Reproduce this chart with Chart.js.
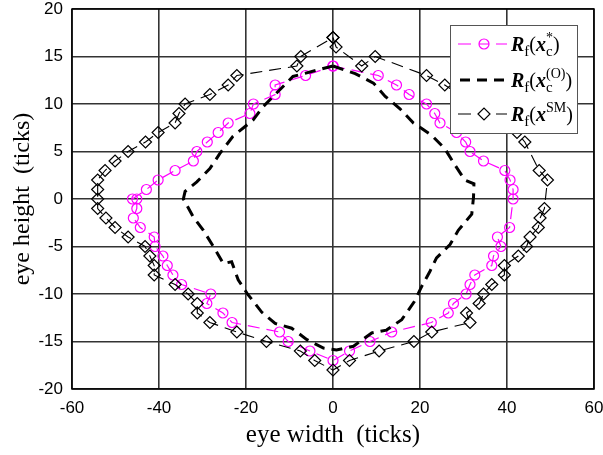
<!DOCTYPE html>
<html>
<head>
<meta charset="utf-8">
<script src="https://cdn.jsdelivr.net/npm/chart.js@4.4.0/dist/chart.umd.min.js"></script>
<style>
  html, body { margin: 0; padding: 0; background: #fff; }
</style>
</head>
<body>
<canvas id="eyeChart" width="603" height="455"></canvas>
<script>
'use strict';

// axis ranges / ticks
const xRange = [-60, 60];
const yRange = [-20, 20];
const xStep = 20;
const yStep = 5;

// R_f(x_c^*)  - magenta circles, traced round the eye (top -> right -> bottom -> left)
const starX = [0, 10.4, 14.6, 17.5, 21.5, 23.4, 24.6, 28.4, 30.5, 31.5, 34.6, 39.5, 40.7, 41.4, 41.4,
  40.6, 37.8, 38.6, 36.9, 36.5, 32.6, 31.5, 30.6, 27.7, 26.5, 22.6, 13.5, 8.5, 3.8, 0,
  -5.3, -10.3, -12.3, -23.2, -25.3, -29.0, -28.1, -34.8, -36.8, -38.1, -39.1, -40.9, -41.1, -44.3, -45.9, -45.1, -45.1,
  -46.1, -42.9, -40.2, -36.3, -32.1, -31.3, -28.9, -26.4, -24.1, -19.1, -18.3, -13.3, -13.3, -6.3, 0];
const starY = [14, 13, 12, 11, 10, 9, 8, 7, 6, 5, 4, 3, 2, 1, 0,
  -3, -4, -5, -6, -7, -8, -9, -10, -11, -12, -13, -14, -15, -16, -17,
  -16, -15, -14, -13, -12, -11, -10, -9, -8, -7, -6, -5, -4, -3, -2, -1, 0,
  0, 1, 2, 3, 4, 5, 6, 7, 8, 9, 10, 11, 12, 13, 14];

// R_f(x_c^(O)) - thick black dashes, no markers
const optX = [0, 5.1, 9.3, 12, 15.4, 18.5, 22.7, 25.7, 28, 30.3, 32.4, 32.3, 31.9, 28.8, 26.9, 23.8, 22.3, 20.4,
  18.7, 15.8, 12.3, 8.9, 4.7, 0.8, -2.2, -6, -9.5, -13.3, -16.4, -19.8, -21.8, -23.3, -25.2, -27.5, -29.8,
  -32.1, -34.4, -34, -31.3, -28.3, -26, -23, -18.4, -16.1, -9.2, 0];
const optY = [14, 13.2, 12.2, 10.8, 9.5, 8, 6.7, 5.3, 3.6, 2, 1.6, 0.2, -1.6, -3.3, -4.8, -6.2, -7.6, -9.2,
  -10.8, -12.7, -13.8, -14.1, -15.5, -15.9, -15.7, -14.8, -13.6, -13.1, -11.9, -9.9, -8.5, -6.6, -6.8, -5, -3.3,
  -1.9, 0, 0.8, 1.8, 3.2, 4.8, 6.6, 8.3, 9.7, 12.9, 14];

// R_f(x^SM) - thin black dashes with diamonds
const smX = [0, 0.7, 6.6, 9.7, 21.5, 25.7, 42.3, 44.1, 47.4, 49.3,
  48.6, 47.6, 47.2, 45.3, 44.5, 42.6, 39.4, 39.4, 36.5, 34.6, 33.6, 30.7, 31.5, 22.7, 18.6, 10.6, 3.8, 0,
  -4.2, -7.5, -15.3, -22.1, -28.3, -31.2, -31.2, -33.3, -36.3, -41.1, -41.1, -42.1, -43.2, -47.1, -50.1, -52.2,
  -54.1, -54.1, -54.1, -54.1, -52.4, -50.1, -47.1, -43.1, -40.2, -36.3, -35.4, -34, -28.3, -24.1, -22.1, -8.3, -7.4, 0];
const smY = [17, 16, 14, 15, 13, 12, 7, 6, 3, 2,
  -1, -2, -3, -4, -5, -6, -7, -8, -9, -10, -11, -12, -13, -14, -15, -16, -17, -18,
  -17, -16, -15, -14, -13, -12, -11, -10, -9, -8, -7, -6, -5, -4, -3, -2,
  -1, 0, 1, 2, 3, 4, 5, 6, 7, 8, 9, 10, 11, 12, 13, 14, 15, 17];

// zip x and y arrays into {x, y} points
function toPoints(xs, ys) {
  return xs.map((x, i) => ({ x: x, y: ys[i] }));
}

const serif = '"Liberation Serif", "Times New Roman", serif';
const sans = '"Liberation Sans", Arial, sans-serif';

// draws text pieces one after the other (sub / superscripts)
function richText(ctx, x, y, parts) {
  ctx.textBaseline = 'alphabetic';
  ctx.textAlign = 'left';
  for (const p of parts) {
    if (p.stack) {
      let w = 0;
      for (const s of p.stack) {
        ctx.font = s.font;
        ctx.fillText(s.text, x, y + s.dy);
        w = Math.max(w, ctx.measureText(s.text).width);
      }
      x += w;
    } else {
      ctx.font = p.font;
      ctx.fillText(p.text, x, y + p.dy);
      x += ctx.measureText(p.text).width;
    }
  }
}

const bigBI = 'bold italic 20px ' + serif;
const big = '20px ' + serif;
const subF = '15px ' + serif;
const supF = '14px ' + serif;

function labelParts(sup, sub) {
  const parts = [
    { text: 'R', font: bigBI, dy: 0 },
    { text: 'f', font: subF, dy: 5 },
    { text: '(', font: big, dy: 0 },
    { text: 'x', font: bigBI, dy: 0 }
  ];
  const stack = [{ text: sup, font: supF, dy: -9 }];
  if (sub) stack.push({ text: sub, font: subF, dy: 5 });
  parts.push({ stack: stack });
  parts.push({ text: ')', font: big, dy: 0 });
  return parts;
}

// box round the plot plus the legend box drawn on top
const framePlugin = {
  id: 'frame',
  afterDraw(chart) {
    const ctx = chart.ctx;
    const a = chart.chartArea;
    ctx.save();
    ctx.strokeStyle = '#000';
    ctx.lineWidth = 1.5;
    ctx.strokeRect(a.left, a.top, a.right - a.left, a.bottom - a.top);

    // legend
    const lx = 450, ly = 25, lw = 127, lh = 108;
    ctx.fillStyle = '#fff';
    ctx.fillRect(lx, ly, lw, lh);
    ctx.strokeStyle = '#555';
    ctx.lineWidth = 1;
    ctx.strokeRect(lx + 0.5, ly + 0.5, lw, lh);

    const rows = [44, 80, 114];
    // row 1 magenta
    ctx.strokeStyle = '#ff00ff';
    ctx.lineWidth = 1.2;
    ctx.setLineDash([]);
    ctx.beginPath();
    ctx.moveTo(458, rows[0]); ctx.lineTo(471, rows[0]);
    ctx.moveTo(496, rows[0]); ctx.lineTo(507, rows[0]);
    ctx.stroke();
    ctx.beginPath();
    ctx.arc(484, rows[0], 5, 0, Math.PI * 2);
    ctx.moveTo(479, rows[0]); ctx.lineTo(489, rows[0]);
    ctx.stroke();
    // row 2 thick dashes
    ctx.strokeStyle = '#000';
    ctx.lineWidth = 3;
    ctx.setLineDash([10, 7]);
    ctx.beginPath();
    ctx.moveTo(460, rows[1]); ctx.lineTo(507, rows[1]);
    ctx.stroke();
    // row 3 diamond
    ctx.setLineDash([]);
    ctx.lineWidth = 1.2;
    ctx.beginPath();
    ctx.moveTo(458, rows[2]); ctx.lineTo(471, rows[2]);
    ctx.moveTo(496, rows[2]); ctx.lineTo(507, rows[2]);
    ctx.moveTo(478, rows[2]); ctx.lineTo(484, rows[2] - 6); ctx.lineTo(490, rows[2]);
    ctx.lineTo(484, rows[2] + 6); ctx.closePath();
    ctx.stroke();

    ctx.fillStyle = '#000';
    richText(ctx, 511, rows[0] + 7, labelParts('*', 'c'));
    richText(ctx, 511, rows[1] + 7, labelParts('(O)', 'c'));
    richText(ctx, 511, rows[2] + 7, labelParts('SM', null));
    ctx.restore();
  }
};

const ctx = document.getElementById('eyeChart').getContext('2d');

const gridOpts = { color: '#333', lineWidth: 1.6, drawTicks: false };

new Chart(ctx, {
  type: 'scatter',
  data: {
    datasets: [
      {
        label: 'Rf(xc*)',
        data: toPoints(starX, starY),
        showLine: true,
        borderColor: '#ff00ff',
        borderWidth: 1.2,
        borderDash: [12, 7],
        pointStyle: 'circle',
        pointRadius: 5,
        pointBorderWidth: 1.2,
        pointBorderColor: '#ff00ff',
        pointBackgroundColor: 'rgba(0,0,0,0)',
        order: 3
      },
      {
        label: 'Rf(xc(O))',
        data: toPoints(optX, optY),
        showLine: true,
        borderColor: '#000',
        borderWidth: 3,
        borderDash: [11, 7],
        pointRadius: 0,
        order: 2
      },
      {
        label: 'Rf(xSM)',
        data: toPoints(smX, smY),
        showLine: true,
        borderColor: '#000',
        borderWidth: 1.1,
        borderDash: [12, 7],
        pointStyle: 'rectRot',
        pointRadius: 6,
        pointBorderWidth: 1.2,
        pointBorderColor: '#000',
        pointBackgroundColor: 'rgba(0,0,0,0)',
        order: 1
      }
    ]
  },
  options: {
    responsive: false,
    animation: false,
    events: [],
    layout: { padding: { top: 9, right: 9, left: 0, bottom: 0 } },
    plugins: {
      legend: { display: false },
      tooltip: { enabled: false }
    },
    scales: {
      x: {
        type: 'linear',
        min: xRange[0],
        max: xRange[1],
        grid: gridOpts,
        border: { display: false },
        ticks: { stepSize: xStep, color: '#000', padding: 11, font: { family: sans, size: 17, lineHeight: 1 } },
        title: { display: true, text: 'eye width  (ticks)', color: '#000', font: { family: serif, size: 25 }, padding: { top: 0, bottom: 5 } },
        // fixed height, and no extra room for the end labels
        afterFit(s) { s.height = 66; s.paddingLeft = 0; s.paddingRight = 0; }
      },
      y: {
        type: 'linear',
        min: yRange[0],
        max: yRange[1],
        grid: gridOpts,
        border: { display: false },
        ticks: { stepSize: yStep, color: '#000', padding: 9, font: { family: sans, size: 17, lineHeight: 1 } },
        title: { display: true, text: 'eye height  (ticks)', color: '#000', font: { family: serif, size: 24 }, padding: { top: 8, bottom: 0 } },
        afterFit(s) { s.width = 72; s.paddingTop = 0; s.paddingBottom = 0; }
      }
    }
  },
  plugins: [framePlugin]
});
</script>
</body>
</html>
